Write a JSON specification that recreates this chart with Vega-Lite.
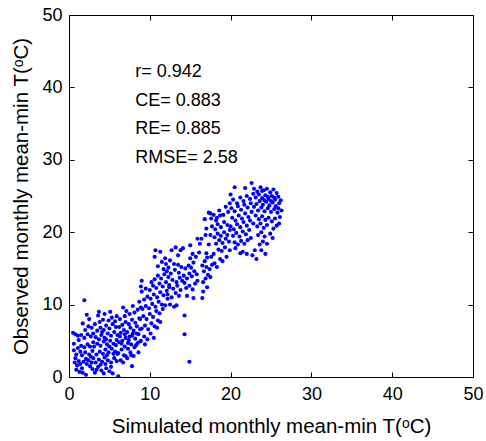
{
"$schema": "https://vega.github.io/schema/vega-lite/v6.json",
"width": 404, "height": 362,
"autosize": "none",
"padding": {"left": 69, "top": 15, "right": 13, "bottom": 64},
"background": "white",
"config": {
 "view": {"stroke": "#000", "strokeWidth": 1},
 "font": "Liberation Sans",
 "axis": {"grid": false, "labelFontSize": 18, "labelColor": "#000", "titleFontSize": 20.5, "titleFontWeight": "normal", "titleColor": "#000", "domainColor": "#000", "tickColor": "#000", "tickSize": -5, "labelFont": "Liberation Sans", "titleFont": "Liberation Sans"}
},
"datasets": {
"pts": [
{"x":0.5,"y":6.1},{"x":0.8,"y":5.9},{"x":1.1,"y":5.7},{"x":1.5,"y":5.8},{"x":1.9,"y":5.4},{"x":2.3,"y":5.9},{"x":2.7,"y":5.6},{"x":0.6,"y":4.6},{"x":0.9,"y":3.1},{"x":1.2,"y":2.2},{"x":0.7,"y":2.0},{"x":1.0,"y":1.6},{"x":1.4,"y":1.8},{"x":1.8,"y":2.1},{"x":2.1,"y":2.5},{"x":2.4,"y":2.3},{"x":2.8,"y":2.0},{"x":1.3,"y":0.7},{"x":1.7,"y":0.6},{"x":2.1,"y":0.3},{"x":0.8,"y":2.6},{"x":1.6,"y":3.0},{"x":2.0,"y":3.4},{"x":2.5,"y":3.1},{"x":2.9,"y":3.6},{"x":1.1,"y":4.0},{"x":1.5,"y":4.3},{"x":1.9,"y":4.1},{"x":2.3,"y":4.5},{"x":2.6,"y":4.2},{"x":3.0,"y":4.8},{"x":1.2,"y":5.1},{"x":2.0,"y":6.5},{"x":2.4,"y":7.0},{"x":2.8,"y":6.8},{"x":1.7,"y":7.4},{"x":2.2,"y":8.6},{"x":2.5,"y":8.0},{"x":1.9,"y":10.6},{"x":1.4,"y":3.5},{"x":0.9,"y":1.0},{"x":2.6,"y":1.5},{"x":2.9,"y":1.1},{"x":3.0,"y":2.6},{"x":1.6,"y":1.2},{"x":2.2,"y":1.8},{"x":2.7,"y":2.8},{"x":0.6,"y":3.7},
{"x":3.2,"y":0.6},{"x":3.6,"y":1.4},{"x":4.0,"y":0.9},{"x":4.3,"y":0.5},{"x":4.6,"y":1.2},{"x":5.0,"y":0.8},{"x":5.4,"y":0.5},{"x":6.1,"y":0.1},{"x":3.3,"y":2.0},{"x":3.7,"y":2.4},{"x":4.1,"y":2.1},{"x":4.4,"y":2.7},{"x":4.8,"y":2.3},{"x":5.2,"y":2.0},{"x":5.6,"y":2.6},{"x":3.4,"y":3.1},{"x":3.8,"y":3.5},{"x":4.2,"y":3.2},{"x":4.5,"y":3.8},{"x":4.9,"y":3.4},{"x":5.3,"y":3.9},{"x":5.7,"y":3.5},{"x":6.0,"y":3.2},{"x":3.1,"y":4.2},{"x":3.5,"y":4.6},{"x":3.9,"y":4.3},{"x":4.3,"y":4.9},{"x":4.7,"y":4.5},{"x":5.1,"y":5.0},{"x":5.5,"y":4.6},{"x":5.9,"y":5.1},{"x":3.3,"y":5.5},{"x":3.7,"y":5.2},{"x":4.0,"y":5.8},{"x":4.4,"y":5.4},{"x":4.8,"y":6.0},{"x":5.2,"y":5.7},{"x":5.6,"y":6.2},{"x":6.0,"y":5.8},{"x":3.5,"y":6.4},{"x":3.9,"y":6.8},{"x":4.3,"y":6.5},{"x":4.6,"y":7.1},{"x":5.0,"y":6.7},{"x":5.4,"y":7.3},{"x":5.8,"y":6.9},{"x":3.2,"y":7.3},{"x":3.8,"y":7.6},{"x":4.2,"y":7.9},{"x":4.9,"y":7.8},{"x":5.3,"y":8.2},{"x":5.7,"y":7.7},{"x":3.6,"y":8.5},{"x":4.4,"y":8.7},{"x":5.1,"y":9.0},{"x":3.7,"y":9.0},{"x":5.9,"y":8.4},{"x":3.0,"y":6.0},{"x":3.4,"y":1.0},{"x":4.7,"y":3.0},{"x":5.5,"y":3.2},{"x":4.1,"y":6.2},{"x":4.6,"y":5.2},{"x":5.0,"y":4.2},{"x":5.8,"y":4.4},{"x":6.2,"y":4.8},{"x":6.3,"y":5.6},{"x":3.9,"y":1.7},{"x":4.5,"y":1.8},{"x":5.2,"y":1.4},{"x":5.9,"y":2.2},
{"x":6.4,"y":2.3},{"x":6.8,"y":3.0},{"x":7.2,"y":2.6},{"x":7.6,"y":3.4},{"x":8.0,"y":2.9},{"x":8.6,"y":3.4},{"x":6.5,"y":3.8},{"x":6.9,"y":4.2},{"x":7.3,"y":3.9},{"x":7.7,"y":4.5},{"x":8.1,"y":4.1},{"x":8.5,"y":4.7},{"x":6.6,"y":5.0},{"x":7.0,"y":5.4},{"x":7.4,"y":5.1},{"x":7.8,"y":5.7},{"x":8.2,"y":5.3},{"x":8.6,"y":5.9},{"x":6.4,"y":6.1},{"x":6.8,"y":6.5},{"x":7.2,"y":6.2},{"x":7.6,"y":6.8},{"x":8.0,"y":6.4},{"x":8.4,"y":7.0},{"x":8.8,"y":6.6},{"x":6.6,"y":7.2},{"x":7.0,"y":7.6},{"x":7.4,"y":7.3},{"x":7.8,"y":7.9},{"x":8.2,"y":7.5},{"x":8.7,"y":8.1},{"x":6.3,"y":8.0},{"x":6.9,"y":8.4},{"x":7.5,"y":8.7},{"x":8.1,"y":8.9},{"x":8.5,"y":9.3},{"x":7.1,"y":9.1},{"x":6.7,"y":9.6},{"x":7.9,"y":9.8},{"x":8.9,"y":9.6},{"x":6.2,"y":6.9},{"x":7.3,"y":4.7},{"x":7.9,"y":6.0},{"x":8.3,"y":4.4},{"x":6.7,"y":2.0},{"x":7.8,"y":1.5},{"x":6.1,"y":3.3},{"x":8.8,"y":4.9},{"x":7.0,"y":2.9},{"x":7.5,"y":5.6},{"x":8.4,"y":6.0},{"x":6.9,"y":5.9},{"x":6.5,"y":4.6},{"x":7.7,"y":3.0},
{"x":8.9,"y":5.0},{"x":9.3,"y":5.6},{"x":9.7,"y":5.2},{"x":10.1,"y":6.0},{"x":10.5,"y":5.4},{"x":10.9,"y":6.8},{"x":9.0,"y":6.7},{"x":9.4,"y":7.1},{"x":9.8,"y":6.6},{"x":10.2,"y":7.4},{"x":10.6,"y":7.0},{"x":11.0,"y":7.8},{"x":11.3,"y":7.6},{"x":8.8,"y":8.0},{"x":9.2,"y":8.4},{"x":9.6,"y":8.0},{"x":10.0,"y":8.7},{"x":10.4,"y":8.3},{"x":10.8,"y":9.1},{"x":11.2,"y":8.8},{"x":11.6,"y":9.4},{"x":9.1,"y":9.4},{"x":9.5,"y":9.8},{"x":9.9,"y":9.5},{"x":10.3,"y":10.1},{"x":10.7,"y":9.7},{"x":11.1,"y":10.4},{"x":11.5,"y":10.0},{"x":11.9,"y":9.9},{"x":9.3,"y":10.7},{"x":9.7,"y":11.1},{"x":10.1,"y":10.8},{"x":10.5,"y":11.4},{"x":10.9,"y":11.0},{"x":11.3,"y":11.7},{"x":11.7,"y":11.3},{"x":12.1,"y":11.9},{"x":9.0,"y":11.8},{"x":9.5,"y":12.2},{"x":10.0,"y":12.0},{"x":10.4,"y":12.6},{"x":10.8,"y":12.3},{"x":11.2,"y":12.9},{"x":11.6,"y":12.5},{"x":12.0,"y":13.1},{"x":9.0,"y":13.3},{"x":10.6,"y":13.5},{"x":11.0,"y":14.0},{"x":11.4,"y":13.6},{"x":11.8,"y":14.2},{"x":12.3,"y":13.8},{"x":10.2,"y":13.1},{"x":8.7,"y":10.4},{"x":8.9,"y":12.5},{"x":9.4,"y":4.5},{"x":12.4,"y":12.4},{"x":12.2,"y":10.8},
{"x":10.6,"y":16.6},{"x":10.7,"y":17.5},{"x":11.3,"y":17.3},{"x":11.0,"y":15.3},{"x":11.5,"y":15.9},{"x":11.9,"y":16.4},{"x":12.3,"y":15.1},{"x":12.7,"y":17.5},{"x":12.5,"y":16.1},{"x":13.0,"y":15.6},{"x":13.2,"y":17.9},{"x":13.5,"y":16.8},{"x":13.8,"y":17.5},{"x":12.1,"y":14.6},{"x":12.6,"y":14.3},{"x":13.1,"y":14.8},{"x":13.6,"y":14.4},{"x":13.9,"y":15.2},{"x":12.8,"y":13.4},{"x":13.3,"y":13.1},{"x":13.7,"y":13.7},{"x":12.4,"y":12.7},{"x":12.9,"y":12.2},{"x":13.4,"y":12.6},{"x":13.8,"y":12.0},{"x":12.2,"y":11.4},{"x":12.7,"y":11.0},{"x":13.2,"y":11.6},{"x":13.6,"y":11.2},{"x":12.5,"y":10.0},{"x":13.0,"y":9.7},{"x":13.3,"y":9.9},{"x":12.0,"y":15.6},{"x":11.7,"y":14.9},{"x":14.0,"y":13.3},{"x":14.2,"y":14.0},{"x":13.5,"y":15.5},
{"x":14.3,"y":13.0},{"x":14.6,"y":13.6},{"x":14.9,"y":14.3},{"x":15.2,"y":13.9},{"x":15.5,"y":14.6},{"x":15.8,"y":14.2},{"x":14.4,"y":15.0},{"x":14.8,"y":15.4},{"x":15.1,"y":15.1},{"x":15.4,"y":15.8},{"x":14.5,"y":12.3},{"x":14.9,"y":12.6},{"x":15.3,"y":12.1},{"x":15.6,"y":12.9},{"x":16.6,"y":13.1},{"x":16.9,"y":13.6},{"x":17.2,"y":14.1},{"x":17.5,"y":13.8},{"x":16.7,"y":14.6},{"x":17.0,"y":15.2},{"x":17.4,"y":14.9},{"x":17.7,"y":15.5},{"x":16.5,"y":15.4},{"x":16.8,"y":16.0},{"x":15.0,"y":16.4},{"x":15.3,"y":17.0},{"x":15.7,"y":16.6},{"x":16.1,"y":17.2},{"x":15.4,"y":10.9},{"x":16.5,"y":10.9},{"x":16.6,"y":11.8},{"x":17.1,"y":12.4},{"x":14.3,"y":8.5},{"x":14.3,"y":5.9},{"x":14.9,"y":2.1},{"x":15.0,"y":18.2},{"x":15.9,"y":19.1},{"x":16.4,"y":19.1},{"x":14.1,"y":17.8},{"x":16.2,"y":18.4},{"x":17.0,"y":17.1},{"x":17.6,"y":16.6},{"x":15.9,"y":13.3},{"x":14.6,"y":11.2},
{"x":16.8,"y":21.8},{"x":17.3,"y":22.7},{"x":17.5,"y":22.6},{"x":17.9,"y":22.4},{"x":17.6,"y":21.9},{"x":18.3,"y":22.0},{"x":18.7,"y":22.3},{"x":16.9,"y":19.6},{"x":17.5,"y":19.6},{"x":17.7,"y":20.8},{"x":18.1,"y":20.4},{"x":18.4,"y":21.1},{"x":18.8,"y":20.7},{"x":19.2,"y":21.4},{"x":19.6,"y":21.0},{"x":18.0,"y":19.3},{"x":18.4,"y":19.8},{"x":18.8,"y":19.5},{"x":19.2,"y":20.0},{"x":19.6,"y":19.6},{"x":19.9,"y":20.3},{"x":18.2,"y":18.4},{"x":18.6,"y":18.9},{"x":19.0,"y":18.5},{"x":19.4,"y":19.1},{"x":19.8,"y":18.7},{"x":18.5,"y":17.6},{"x":18.9,"y":17.4},{"x":19.3,"y":17.9},{"x":19.9,"y":17.5},{"x":18.7,"y":16.3},{"x":19.5,"y":16.6},{"x":17.9,"y":17.0},{"x":17.3,"y":18.3},{"x":17.1,"y":16.5},{"x":18.0,"y":15.7},{"x":19.1,"y":22.4},{"x":19.7,"y":22.8},{"x":18.6,"y":23.0},{"x":19.4,"y":23.5},{"x":18.2,"y":21.6},{"x":17.0,"y":20.5},{"x":19.0,"y":16.0},{"x":18.3,"y":15.2},
{"x":20.5,"y":26.2},{"x":21.8,"y":26.1},{"x":22.6,"y":26.8},{"x":20.3,"y":24.5},{"x":20.8,"y":24.0},{"x":21.2,"y":24.8},{"x":21.6,"y":24.3},{"x":22.0,"y":25.0},{"x":22.4,"y":24.6},{"x":22.8,"y":25.3},{"x":20.1,"y":23.3},{"x":20.5,"y":22.9},{"x":20.9,"y":23.6},{"x":21.3,"y":23.1},{"x":21.7,"y":23.8},{"x":22.1,"y":23.4},{"x":22.5,"y":24.0},{"x":20.2,"y":22.0},{"x":20.6,"y":21.6},{"x":21.0,"y":22.3},{"x":21.4,"y":21.9},{"x":21.8,"y":22.6},{"x":22.2,"y":22.1},{"x":22.6,"y":22.8},{"x":20.0,"y":20.8},{"x":20.4,"y":20.4},{"x":20.8,"y":21.1},{"x":21.2,"y":20.7},{"x":21.6,"y":21.4},{"x":22.0,"y":20.9},{"x":22.4,"y":21.6},{"x":22.8,"y":21.2},{"x":20.3,"y":19.5},{"x":20.7,"y":19.9},{"x":21.1,"y":19.4},{"x":21.5,"y":20.1},{"x":21.9,"y":19.7},{"x":22.3,"y":20.3},{"x":20.5,"y":18.6},{"x":20.9,"y":18.3},{"x":21.3,"y":18.8},{"x":21.7,"y":18.4},{"x":22.1,"y":18.9},{"x":22.5,"y":19.2},{"x":21.2,"y":17.1},{"x":21.5,"y":17.3},{"x":22.0,"y":17.0},{"x":20.6,"y":17.8},{"x":22.7,"y":16.8},{"x":23.0,"y":17.5},{"x":19.9,"y":24.0},{"x":20.0,"y":25.2},
{"x":22.9,"y":26.0},{"x":23.3,"y":25.6},{"x":23.7,"y":26.2},{"x":24.1,"y":25.8},{"x":24.5,"y":26.0},{"x":24.9,"y":25.5},{"x":25.3,"y":25.9},{"x":25.7,"y":25.4},{"x":23.1,"y":24.8},{"x":23.5,"y":25.2},{"x":23.9,"y":24.7},{"x":24.3,"y":25.1},{"x":24.7,"y":24.6},{"x":25.1,"y":25.0},{"x":25.5,"y":24.5},{"x":25.9,"y":24.9},{"x":26.2,"y":24.4},{"x":23.2,"y":23.9},{"x":23.6,"y":24.3},{"x":24.0,"y":23.8},{"x":24.4,"y":24.2},{"x":24.8,"y":23.7},{"x":25.2,"y":24.1},{"x":25.6,"y":23.6},{"x":26.0,"y":24.0},{"x":23.4,"y":23.0},{"x":23.8,"y":23.4},{"x":24.2,"y":22.9},{"x":24.6,"y":23.3},{"x":25.0,"y":22.8},{"x":25.4,"y":23.2},{"x":25.8,"y":22.7},{"x":26.1,"y":22.1},{"x":23.1,"y":22.3},{"x":23.5,"y":21.8},{"x":23.9,"y":22.2},{"x":24.3,"y":21.7},{"x":24.7,"y":22.0},{"x":25.1,"y":21.5},{"x":25.5,"y":21.9},{"x":23.3,"y":20.8},{"x":23.7,"y":21.2},{"x":24.1,"y":20.6},{"x":24.5,"y":21.0},{"x":25.3,"y":20.5},{"x":25.7,"y":20.9},{"x":23.4,"y":19.6},{"x":23.8,"y":20.0},{"x":24.2,"y":19.4},{"x":24.9,"y":19.8},{"x":25.2,"y":19.2},{"x":23.6,"y":18.3},{"x":24.0,"y":18.7},{"x":24.5,"y":18.4},{"x":23.8,"y":17.5},{"x":23.2,"y":16.3},{"x":24.3,"y":17.0},{"x":25.9,"y":23.3},{"x":26.3,"y":23.0},{"x":26.0,"y":21.2},{"x":22.9,"y":23.5},{"x":24.6,"y":24.9},{"x":25.4,"y":24.8},{"x":24.2,"y":24.4},{"x":23.9,"y":25.7},{"x":25.0,"y":24.3}
],
"stats": [
{"label": "r= 0.942", "ty": 42.1},
{"label": "CE= 0.883", "ty": 38.1},
{"label": "RE= 0.885", "ty": 34.2},
{"label": "RMSE= 2.58", "ty": 30.3}
]
},
"layer": [
 {
  "data": {"name": "pts"},
  "mark": {"type": "circle", "color": "#0000ff", "opacity": 1, "size": 17},
  "encoding": {
   "x": {"field": "x", "type": "quantitative", "scale": {"domain": [0, 50], "nice": false, "zero": false},
         "axis": {"orient": "bottom", "values": [0,10,20,30,40,50], "title": "Simulated monthly mean-min T(ᵒC)", "labelPadding": 13, "titlePadding": 13, "labelFlush": false}},
   "y": {"field": "y", "type": "quantitative", "scale": {"domain": [0, 50], "nice": false, "zero": false},
         "axis": {"orient": "left", "values": [0,10,20,30,40,50], "title": "Observed monthly mean-min T(ᵒC)", "labelPadding": 12, "titlePadding": 10, "labelFlush": false}}
  }
 },
 {
  "data": {"name": "pts"},
  "mark": {"type": "point", "opacity": 0},
  "encoding": {
   "x": {"field": "x", "type": "quantitative", "axis": {"orient": "top", "values": [0,10,20,30,40,50], "labels": false, "title": null, "domain": false}},
   "y": {"field": "y", "type": "quantitative", "axis": {"orient": "right", "values": [0,10,20,30,40,50], "labels": false, "title": null, "domain": false}}
  }
 },
 {
  "data": {"name": "stats"},
  "mark": {"type": "text", "align": "left", "baseline": "middle", "fontSize": 18, "font": "Liberation Sans", "color": "#000"},
  "encoding": {
   "x": {"datum": 8.2, "type": "quantitative", "axis": null},
   "y": {"field": "ty", "type": "quantitative", "axis": null},
   "text": {"field": "label"}
  }
 }
]
}
